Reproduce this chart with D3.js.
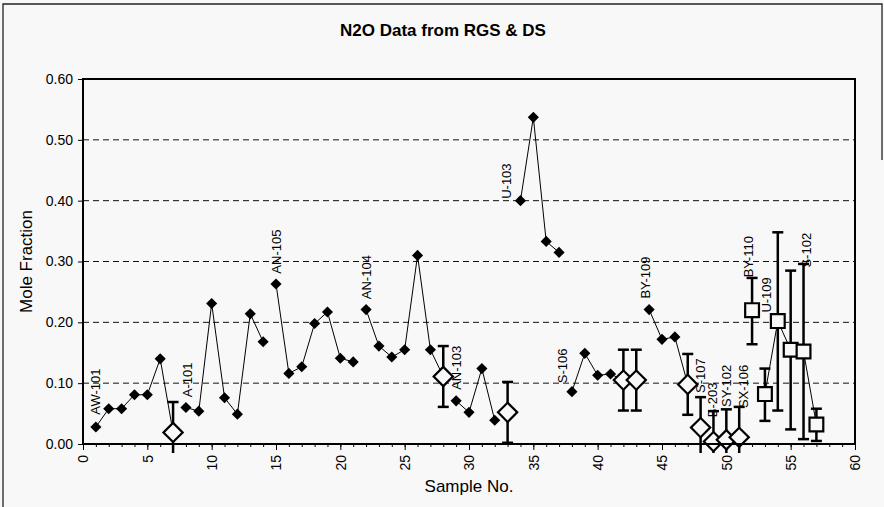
<!DOCTYPE html>
<html>
<head>
<meta charset="utf-8">
<script src="https://cdn.jsdelivr.net/npm/d3@7"></script>
<style>
  html, body { margin: 0; padding: 0; background: #f8f8f8; }
  svg { display: block; font-family: "Liberation Sans", Arial, sans-serif; }
</style>
</head>
<body>
<svg id="chart" width="884" height="507"></svg>
<script>
// RGS samples (filled diamonds)
const rgsSamples = [1, 2, 3, 4, 5, 6, 8, 9, 10, 11, 12, 13, 14, 15, 16, 17, 18, 19, 20, 21,
  22, 23, 24, 25, 26, 27, 29, 30, 31, 32, 34, 35, 36, 37, 38, 39, 40, 41, 44, 45, 46];
const rgsValues = [0.028, 0.058, 0.058, 0.081, 0.081, 0.140, 0.060, 0.054, 0.231, 0.076, 0.049, 0.214, 0.168,
  0.263, 0.116, 0.127, 0.198, 0.217, 0.141, 0.135, 0.221, 0.161, 0.143, 0.155, 0.310, 0.155,
  0.071, 0.052, 0.124, 0.039, 0.400, 0.537, 0.333, 0.315, 0.086, 0.149, 0.113, 0.115,
  0.221, 0.172, 0.176];

// DS samples (open diamonds, with error bars)
const dsSamples = [7, 28, 33, 42, 43, 47, 48, 49, 50, 51];
const dsValues = [0.019, 0.111, 0.052, 0.105, 0.105, 0.098, 0.027, 0.004, 0.007, 0.011];
const dsError = [0.05, 0.05, 0.05, 0.05, 0.05, 0.05, 0.05, 0.05, 0.05, 0.05];

// Open-square samples with their low / high ranges
const sqSamples = [52, 53, 54, 55, 56, 57];
const sqValues = [0.220, 0.082, 0.202, 0.155, 0.152, 0.032];
const sqLow = [0.164, 0.038, 0.055, 0.024, 0.008, 0.005];
const sqHigh = [0.273, 0.124, 0.348, 0.285, 0.296, 0.058];

// Consecutive sample runs joined by a line (first, last sample)
const lineRuns = [[1, 7], [8, 14], [15, 21], [22, 28], [29, 32], [34, 37], [38, 43], [44, 47], [53, 55], [56, 57]];

// Tank labels and the (sample, value) where each label starts
const tankNames = ["AW-101", "A-101", "AN-105", "AN-104", "AN-103", "U-103", "S-106", "BY-109",
  "S-107", "B-203", "SY-102", "SX-106", "BY-110", "U-109", "S-102"];
const labelSample = [0.93, 8.08, 15.0, 22.0, 29.0, 32.9, 37.3, 43.7, 48.0, 48.9, 50.0, 51.3, 51.7, 53.1, 56.2];
const labelValue = [0.048, 0.077, 0.280, 0.238, 0.089, 0.403, 0.100, 0.239, 0.084, 0.044, 0.061, 0.059, 0.274, 0.216, 0.290];

const yTicks = [0, 0.1, 0.2, 0.3, 0.4, 0.5, 0.6];
const xMajorTicks = [0, 5, 10, 15, 20, 25, 30, 35, 40, 45, 50, 55, 60];

const bg = "#f8f8f8";
const svg = d3.select("#chart");
const plot = { left: 83, right: 855, top: 79, bottom: 444 };

const x = d3.scaleLinear().domain([0, 60]).range([plot.left, plot.right]);
const y = d3.scaleLinear().domain([0, 0.6]).range([plot.bottom, plot.top]);

// outer chart frame
svg.append("path")
  .attr("d", `M3,507 L3,4 L882,4 L882,160`)
  .attr("fill", "none").attr("stroke", "#222").attr("stroke-width", 1.3);

// title
svg.append("text")
  .attr("x", 443).attr("y", 36)
  .attr("text-anchor", "middle")
  .attr("font-size", 17).attr("font-weight", "bold")
  .text("N2O Data from RGS & DS");

// clip region: marks may run a little below the x axis
svg.append("defs").append("clipPath").attr("id", "plotClip")
  .append("rect")
  .attr("x", plot.left).attr("y", plot.top)
  .attr("width", plot.right - plot.left).attr("height", plot.bottom - plot.top + 9);

// dashed gridlines
svg.append("g").selectAll("line")
  .data(yTicks.filter(d => d > 0 && d < 0.6))
  .join("line")
  .attr("x1", plot.left).attr("x2", plot.right)
  .attr("y1", d => y(d)).attr("y2", d => y(d))
  .attr("stroke", "#111").attr("stroke-width", 1)
  .attr("stroke-dasharray", "6,4");

// y axis
const yAxis = svg.append("g")
  .attr("transform", `translate(${plot.left},0)`)
  .call(d3.axisLeft(y).tickValues(yTicks).tickFormat(d3.format(".2f")).tickSize(5).tickPadding(5));
yAxis.select(".domain").remove();
yAxis.selectAll("text").attr("font-size", 14).attr("fill", "#000").attr("font-family", null);
yAxis.selectAll("line").attr("stroke", "#000");

// x axis: minor ticks then major ticks with rotated labels
const xMinor = svg.append("g")
  .attr("transform", `translate(0,${plot.bottom})`)
  .call(d3.axisBottom(x).tickValues(d3.range(0, 61)).tickFormat("").tickSize(3));
xMinor.select(".domain").remove();
xMinor.selectAll("line").attr("stroke", "#000");

const xAxis = svg.append("g")
  .attr("transform", `translate(0,${plot.bottom})`)
  .call(d3.axisBottom(x).tickValues(xMajorTicks).tickFormat(d3.format("d")).tickSize(6));
xAxis.select(".domain").remove();
xAxis.selectAll("line").attr("stroke", "#000");
xAxis.selectAll("text")
  .attr("font-size", 14).attr("fill", "#000").attr("font-family", null)
  .attr("transform", "rotate(-90)")
  .attr("text-anchor", "end")
  .attr("x", -11).attr("y", 0).attr("dy", "0.35em");

// axis titles
svg.append("text")
  .attr("x", (plot.left + plot.right) / 2).attr("y", 492)
  .attr("text-anchor", "middle").attr("font-size", 17)
  .text("Sample No.");
svg.append("text")
  .attr("transform", `translate(26,${(plot.top + plot.bottom) / 2}) rotate(-90)`)
  .attr("text-anchor", "middle").attr("dy", "0.35em").attr("font-size", 17)
  .text("Mole Fraction");

// lookup of every plotted point by sample number
const valueBySample = new Map();
rgsSamples.forEach((s, i) => valueBySample.set(s, rgsValues[i]));
dsSamples.forEach((s, i) => valueBySample.set(s, dsValues[i]));
sqSamples.forEach((s, i) => valueBySample.set(s, sqValues[i]));

const marks = svg.append("g").attr("clip-path", "url(#plotClip)");

// connecting lines
const line = d3.line().x(d => x(d[0])).y(d => y(d[1]));
marks.append("g").selectAll("path")
  .data(lineRuns.map(([a, b]) => d3.range(a, b + 1)
    .filter(s => valueBySample.has(s))
    .map(s => [s, valueBySample.get(s)])))
  .join("path")
  .attr("d", line)
  .attr("fill", "none").attr("stroke", "#000").attr("stroke-width", 1);

// error bars
const bars = dsSamples.map((s, i) => ({ s, lo: dsValues[i] - dsError[i], hi: dsValues[i] + dsError[i] }))
  .concat(sqSamples.map((s, i) => ({ s, lo: sqLow[i], hi: sqHigh[i] })));
const capHalf = 5.5;
const eb = marks.append("g").attr("stroke", "#000").attr("stroke-width", 2.5);
bars.forEach(b => {
  const cx = x(b.s);
  eb.append("line").attr("x1", cx).attr("x2", cx).attr("y1", y(b.lo)).attr("y2", y(b.hi));
  eb.append("line").attr("x1", cx - capHalf).attr("x2", cx + capHalf).attr("y1", y(b.hi)).attr("y2", y(b.hi));
  eb.append("line").attr("x1", cx - capHalf).attr("x2", cx + capHalf).attr("y1", y(b.lo)).attr("y2", y(b.lo));
});

// markers
const diamondSmall = d3.symbol(d3.symbolSquare, 62)();
const diamondLarge = d3.symbol(d3.symbolSquare, 185)();
const squareMark = d3.symbol(d3.symbolSquare, 190)();

marks.append("g").selectAll("path")
  .data(rgsSamples.map((s, i) => [s, rgsValues[i]]))
  .join("path")
  .attr("d", diamondSmall)
  .attr("transform", d => `translate(${x(d[0])},${y(d[1])}) rotate(45)`)
  .attr("fill", "#000");

marks.append("g").selectAll("path")
  .data(dsSamples.map((s, i) => [s, dsValues[i]]))
  .join("path")
  .attr("d", diamondLarge)
  .attr("transform", d => `translate(${x(d[0])},${y(d[1])}) rotate(45)`)
  .attr("fill", bg).attr("stroke", "#000").attr("stroke-width", 2.2);

marks.append("g").selectAll("path")
  .data(sqSamples.map((s, i) => [s, sqValues[i]]))
  .join("path")
  .attr("d", squareMark)
  .attr("transform", d => `translate(${x(d[0])},${y(d[1])})`)
  .attr("fill", bg).attr("stroke", "#000").attr("stroke-width", 2.2);

// tank labels
svg.append("g").selectAll("text")
  .data(tankNames.map((t, i) => ({ t, s: labelSample[i], v: labelValue[i] })))
  .join("text")
  .attr("transform", d => `translate(${x(d.s)},${y(d.v)}) rotate(-90)`)
  .attr("text-anchor", "start").attr("dy", "0.35em")
  .attr("font-size", 13)
  .text(d => d.t);

// plot area frame
svg.append("rect")
  .attr("x", plot.left).attr("y", plot.top)
  .attr("width", plot.right - plot.left).attr("height", plot.bottom - plot.top)
  .attr("fill", "none").attr("stroke", "#000").attr("stroke-width", 2);
</script>
</body>
</html>
